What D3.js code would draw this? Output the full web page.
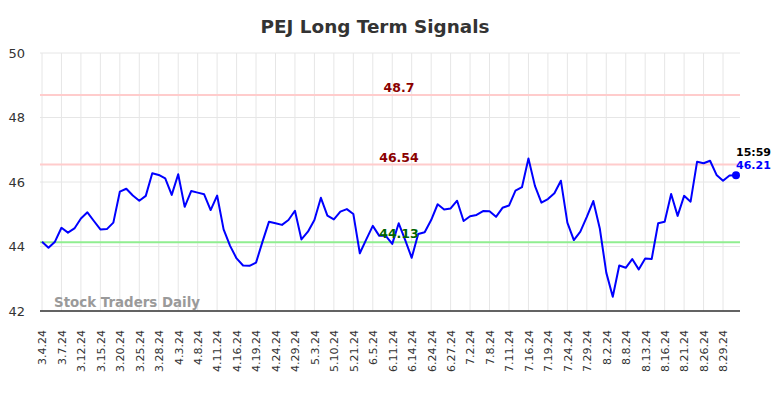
<!DOCTYPE html>
<html>
<head>
<meta charset="utf-8">
<script src="https://cdn.jsdelivr.net/npm/d3@7"></script>
<style>
  html, body { margin: 0; padding: 0; background: #fff; }
  svg { display: block; font-family: "DejaVu Sans", sans-serif; }
</style>
</head>
<body>
<svg id="chart" width="784" height="398"></svg>
<script>
const title = "PEJ Long Term Signals";
const tickLabels = ["3.4.24","3.7.24","3.12.24","3.15.24","3.20.24","3.25.24","3.28.24","4.3.24","4.8.24","4.11.24","4.16.24","4.19.24","4.24.24","4.29.24","5.3.24","5.10.24","5.21.24","6.5.24","6.11.24","6.14.24","6.24.24","6.27.24","7.2.24","7.8.24","7.11.24","7.16.24","7.19.24","7.24.24","7.29.24","8.2.24","8.8.24","8.13.24","8.16.24","8.21.24","8.26.24","8.29.24"];
const tickStep = 3;
const values = [
  44.15, 43.96, 44.15, 44.58, 44.43, 44.56, 44.87, 45.06, 44.79, 44.53,
  44.54, 44.74, 45.70, 45.79, 45.58, 45.42, 45.57, 46.27, 46.22, 46.11,
  45.60, 46.24, 45.23, 45.72, 45.67, 45.62, 45.13, 45.58, 44.53, 44.02,
  43.63, 43.41, 43.40, 43.50, 44.15, 44.77, 44.72, 44.67, 44.82, 45.11,
  44.22, 44.46, 44.82, 45.51, 44.96, 44.84, 45.08, 45.16, 45.01, 43.79,
  44.22, 44.64, 44.33, 44.33, 44.08, 44.72, 44.20, 43.65, 44.39, 44.44,
  44.82, 45.31, 45.15, 45.18, 45.42, 44.79, 44.94, 44.98, 45.10, 45.09,
  44.92, 45.20, 45.27, 45.73, 45.84, 46.73, 45.88, 45.36, 45.47, 45.65,
  46.04, 44.74, 44.20, 44.46, 44.92, 45.41, 44.56, 43.19, 42.44, 43.41,
  43.34, 43.61, 43.29, 43.63, 43.61, 44.72, 44.77, 45.63, 44.95, 45.57,
  45.39, 46.63, 46.58, 46.66, 46.22, 46.04, 46.20, 46.21
];
const yTicks = [42, 44, 46, 48, 50];
const resistanceLevels = [48.7, 46.54];
const supportLevels = [44.13];
const lastTime = "15:59";
const watermark = "Stock Traders Daily";

const svg = d3.select("#chart");
const x = d3.scaleLinear().domain([0, values.length - 1]).range([42, 736]);
const y = d3.scaleLinear().domain([42, 50]).range([311, 53]);
const plotLeft = 40, plotRight = 740;

// title
svg.append("text").attr("x", 375).attr("y", 33).attr("text-anchor", "middle")
  .attr("font-size", 18.4).attr("font-weight", "bold").attr("fill", "#333").text(title);

// horizontal grid
svg.append("g").selectAll("line").data(yTicks).join("line")
  .attr("x1", plotLeft).attr("x2", plotRight)
  .attr("y1", d => y(d)).attr("y2", d => y(d))
  .attr("stroke", "#e6e6e6").attr("stroke-width", 1);

// vertical grid
const tickIdx = tickLabels.map((d, i) => i * tickStep);
svg.append("g").selectAll("line").data(tickIdx).join("line")
  .attr("x1", d => x(d)).attr("x2", d => x(d))
  .attr("y1", y(50)).attr("y2", y(42))
  .attr("stroke", "#e6e6e6").attr("stroke-width", 1);

// y axis labels
const yAxis = d3.axisLeft(y).tickValues(yTicks).tickSize(0).tickPadding(0);
const gy = svg.append("g").attr("transform", "translate(25,0)").call(yAxis);
gy.select(".domain").remove();
gy.selectAll("text").attr("font-size", 13).attr("fill", "#333")
  .attr("font-family", "DejaVu Sans, sans-serif");

// x axis
const xAxis = d3.axisBottom(x).tickValues(tickIdx).tickSize(0).tickPadding(0)
  .tickFormat((d, i) => tickLabels[i]);
const gx = svg.append("g").attr("transform", "translate(0,311)").call(xAxis);
gx.select(".domain").remove();
gx.selectAll("text")
  .attr("font-size", 11).attr("fill", "#333").attr("font-family", "DejaVu Sans, sans-serif")
  .attr("transform", "rotate(-90)")
  .attr("text-anchor", "end").attr("x", -19).attr("y", 0).attr("dy", "0.35em");
svg.append("line").attr("x1", plotLeft).attr("x2", plotRight)
  .attr("y1", 311).attr("y2", 311).attr("stroke", "#333").attr("stroke-width", 1.5);

// level lines
svg.append("g").selectAll("line").data(resistanceLevels).join("line")
  .attr("x1", plotLeft).attr("x2", plotRight)
  .attr("y1", d => y(d)).attr("y2", d => y(d))
  .attr("stroke", "#ffcccc").attr("stroke-width", 2);
svg.append("g").selectAll("line").data(supportLevels).join("line")
  .attr("x1", plotLeft).attr("x2", plotRight)
  .attr("y1", d => y(d)).attr("y2", d => y(d))
  .attr("stroke", "#90ee90").attr("stroke-width", 2);

// watermark
svg.append("text").attr("x", 54).attr("y", 307).attr("font-size", 13.4)
  .attr("font-weight", "bold").attr("fill", "#9a9a9a").text(watermark);

// line
const line = d3.line().x((d, i) => x(i)).y(d => y(d));
svg.append("path").datum(values).attr("d", line)
  .attr("fill", "none").attr("stroke", "#0000ff").attr("stroke-width", 2)
  .attr("stroke-linejoin", "round");

// level labels
svg.append("g").selectAll("text").data(resistanceLevels).join("text")
  .attr("x", 399).attr("y", d => y(d) - 3).attr("text-anchor", "middle")
  .attr("font-size", 12.5).attr("font-weight", "bold").attr("fill", "#8b0000")
  .text(d => d);
svg.append("g").selectAll("text").data(supportLevels).join("text")
  .attr("x", 399).attr("y", d => y(d) - 4).attr("text-anchor", "middle")
  .attr("font-size", 12.5).attr("font-weight", "bold").attr("fill", "#006400")
  .text(d => d);

// end marker
const last = values.length - 1;
svg.append("circle").attr("cx", x(last)).attr("cy", y(values[last])).attr("r", 4)
  .attr("fill", "#0000ff");
svg.append("text").attr("x", x(last)).attr("y", y(values[last]) - 19)
  .attr("font-size", 11).attr("font-weight", "bold").attr("fill", "#000").text(lastTime);
svg.append("text").attr("x", x(last)).attr("y", y(values[last]) - 6)
  .attr("font-size", 11).attr("font-weight", "bold").attr("fill", "#0000ff").text(values[last].toFixed(2));
</script>
</body>
</html>
